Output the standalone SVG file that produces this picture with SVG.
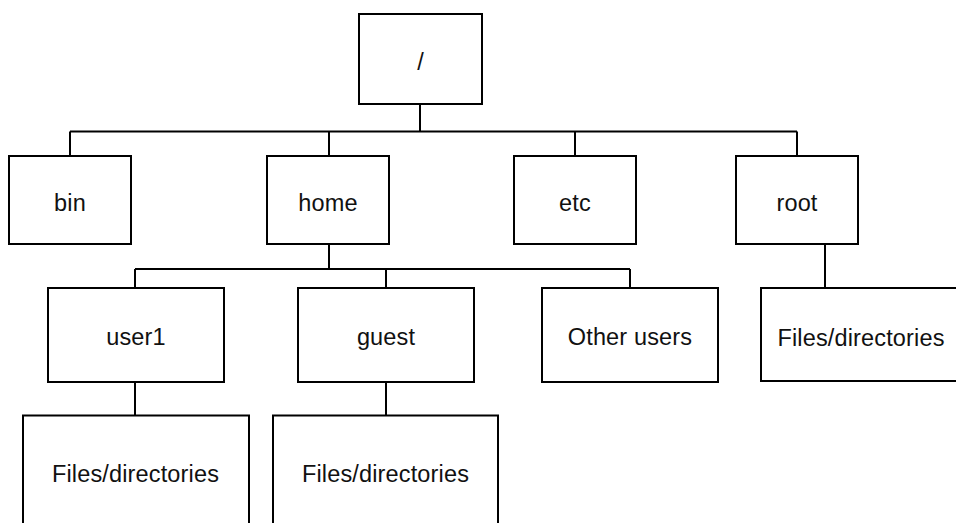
<svg xmlns="http://www.w3.org/2000/svg" width="956" height="523" viewBox="0 0 956 523">
<style>
.box{fill:#fff;stroke:#000;stroke-width:2}
.lbl{font-family:"Liberation Sans",Arial,sans-serif;font-size:23.5px;letter-spacing:0.15px;fill:#111;text-anchor:middle}
.con{fill:none;stroke:#000;stroke-width:2}
</style>
<rect width="956" height="523" fill="#fff"/>
<g id="connectors">
<path class="con" d="M420,104V131.5M70,131.5H797M70,131.5V156M329,131.5V156M575,131.5V156M797,131.5V156"/>
<path class="con" d="M329,244V269M135,269H630M135,269V288M386,269V288M630,269V288"/>
<path class="con" d="M825,244V288M135,382V415.5M386,382V415.5"/>
</g>
<g id="node-root-dir"><rect class="box" x="359" y="14" width="123" height="90"/><text class="lbl" x="420.5" y="70">/</text></g>
<g id="node-bin"><rect class="box" x="9" y="156" width="122" height="88"/><text class="lbl" x="70" y="211">bin</text></g>
<g id="node-home"><rect class="box" x="267" y="156" width="122" height="88"/><text class="lbl" x="328" y="211">home</text></g>
<g id="node-etc"><rect class="box" x="514" y="156" width="122" height="88"/><text class="lbl" x="575" y="211">etc</text></g>
<g id="node-root"><rect class="box" x="736" y="156" width="122" height="88"/><text class="lbl" x="797" y="211">root</text></g>
<g id="node-user1"><rect class="box" x="48" y="288" width="176" height="94"/><text class="lbl" x="136" y="345">user1</text></g>
<g id="node-guest"><rect class="box" x="298" y="288" width="176" height="94"/><text class="lbl" x="386" y="345">guest</text></g>
<g id="node-other"><rect class="box" x="542" y="288" width="176" height="94"/><text class="lbl" x="630" y="345">Other users</text></g>
<g id="node-root-files"><rect class="box" x="761" y="288" width="200" height="93"/><text class="lbl" x="861" y="346">Files/directories</text></g>
<g id="node-user1-files"><rect class="box" x="23" y="415.5" width="226" height="115"/><text class="lbl" x="135.5" y="482">Files/directories</text></g>
<g id="node-guest-files"><rect class="box" x="273" y="415.5" width="225" height="115"/><text class="lbl" x="385.5" y="482">Files/directories</text></g>
</svg>
